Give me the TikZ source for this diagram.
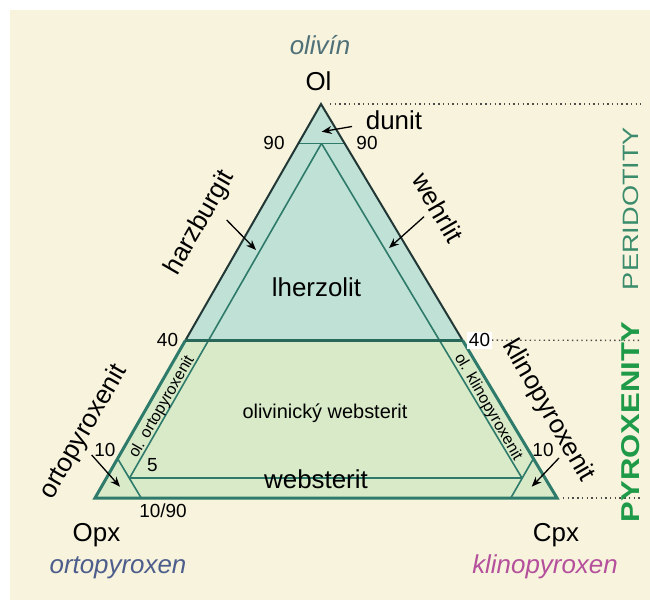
\documentclass[tikz,border=0pt]{standalone}
\usepackage{fontspec}
\setmainfont{Liberation Sans}
\usetikzlibrary{arrows.meta}
\definecolor{bg}{HTML}{F8F3DC}
\definecolor{perfill}{HTML}{C0E1D5}
\definecolor{pyrfill}{HTML}{D8EAC8}
\definecolor{tealline}{HTML}{2E7A6B}
\definecolor{darkedge}{HTML}{223836}
\definecolor{oltxt}{HTML}{4E7078}
\definecolor{opxtxt}{HTML}{4D5E8C}
\definecolor{cpxtxt}{HTML}{B4509C}
\definecolor{pertxt}{HTML}{3A8C6C}
\definecolor{pyrtxt}{HTML}{1E9A48}
\begin{document}
\begin{tikzpicture}[x=1bp,y=-1bp,
  lbl/.style={font=\fontsize{26}{28}\selectfont, inner sep=0pt, anchor=base},
  num/.style={font=\fontsize{19}{21}\selectfont, inner sep=0pt, anchor=base},
  rotlbl/.style={font=\fontsize{26}{28}\selectfont, inner sep=0pt},
  smallrot/.style={font=\fontsize{16}{18}\selectfont, inner sep=0pt},
  pointer/.style={-{Stealth[length=10bp,width=8bp]}, line width=1.3bp, black},
  dots/.style={line width=1.4bp, black!70, dash pattern=on 1.4bp off 3.3bp},
  innerline/.style={tealline, line width=1.6bp},
  lowedge/.style={tealline, line width=3bp, line join=miter},
  upedge/.style={darkedge, line width=2bp, line join=miter},
  midline/.style={tealline!85!black, line width=3.4bp}
]
\useasboundingbox (0,0) rectangle (650,601);
\fill[white] (0,0) rectangle (650,601);
\fill[bg] (10,10) rectangle (650,600);

% corners
\coordinate (A) at (321,104);
\coordinate (B) at (95,498);
\coordinate (C) at (557,498);
% derived points
\coordinate (L90) at (barycentric cs:A=0.9,B=0.1,C=0);
\coordinate (R90) at (barycentric cs:A=0.9,B=0,C=0.1);
\coordinate (L40) at (barycentric cs:A=0.4,B=0.6,C=0);
\coordinate (R40) at (barycentric cs:A=0.4,B=0,C=0.6);
\coordinate (Q) at (barycentric cs:A=0.9,B=0.05,C=0.05);
\coordinate (L5) at (barycentric cs:A=0.05,B=0.9,C=0.05);
\coordinate (R5) at (barycentric cs:A=0.05,B=0.05,C=0.9);
\coordinate (LE10) at (barycentric cs:A=0.1,B=0.9,C=0);
\coordinate (LB10) at (barycentric cs:A=0,B=0.9,C=0.1);
\coordinate (RE10) at (barycentric cs:A=0.1,B=0,C=0.9);
\coordinate (RB10) at (barycentric cs:A=0,B=0.1,C=0.9);

% fills
\fill[perfill] (A) -- (L40) -- (R40) -- cycle;
\fill[pyrfill] (L40) -- (B) -- (C) -- (R40) -- cycle;

% inner lines
\draw[innerline] (L90) -- (R90);
\draw[innerline] (Q) -- (L5);
\draw[innerline] (Q) -- (R5);
\draw[innerline, line width=2bp] (L5) -- (R5);
\draw[innerline] (LE10) -- (LB10);
\draw[innerline] (RE10) -- (RB10);

% outer edges
\draw[upedge] (L40) -- (A) -- (R40);
\draw[lowedge] (L40) -- (B) -- (C) -- (R40);
\draw[midline] (L40) -- (R40);

% dotted guide lines
\coordinate (dA) at (641,104);
\coordinate (d40) at (641,340.4);
\coordinate (dC) at (641,498);
\draw[dots] ([xshift=9bp]A) -- (dA);
\draw[dots] ([xshift=6bp]C) -- (dC);

% labels top
\node[lbl, text=oltxt] (olivin) at (320,55) {\itshape olivín};
\node[lbl] (Ol) at (318.5,91) {Ol};
\node[lbl] (dunit) at (394,130) {dunit};
\node[num] (n90l) at (274,150) {90};
\node[num] (n90r) at (367,150) {90};
\coordinate (dunitA) at (352,126.5);
\coordinate (dunitT) at (321.7,131.7);
\draw[pointer] (dunitA) -- (dunitT);

% side labels peridotite
\node[rotlbl, rotate=60] (harz) at (200,223) {harzburgit};
\coordinate (harzA) at (226.7,220);
\coordinate (harzT) at (256,250);
\draw[pointer] (harzA) -- (harzT);
\node[rotlbl, rotate=-60] (wehr) at (438,207.5) {wehrlit};
\coordinate (wehrA) at (424,216.7);
\coordinate (wehrT) at (389,248);
\draw[pointer] (wehrA) -- (wehrT);
\node[lbl] (lherz) at (316.5,296.7) {lherzolit};

% 40 labels
\node[num] (n40l) at (167.5,346.7) {40};
\node[num, fill=white, inner sep=1.8bp] (n40r) at (479.5,346.7) {40};
\draw[dots] (n40r.east) -- (d40);

% pyroxenite labels
\node[lbl, font=\fontsize{20}{22}\selectfont] (olweb) at (325,418) {olivinický websterit};
\node[lbl] (webst) at (316,488.3) {websterit};
\node[smallrot, rotate=60] (olopx) at (162,407) {ol. ortopyroxenit};
\node[smallrot, rotate=-60] (olcpx) at (488,407) {ol. klinopyroxenit};
\node[num] (n5) at (152.5,471.7) {5};
\node[num] (n1090) at (163,517.7) {10/90};
\node[num] (n10l) at (105,456.7) {10};
\node[num] (n10r) at (543,456.7) {10};
\node[rotlbl, rotate=60] (opxit) at (84,432) {ortopyroxenit};
\coordinate (opxA) at (91.7,455);
\coordinate (opxT) at (120,486.7);
\draw[pointer] (opxA) -- (opxT);
\node[rotlbl, rotate=-60] (cpxit) at (548,411) {klinopyroxenit};
\coordinate (cpxA) at (559,458);
\coordinate (cpxT) at (531.7,486.7);
\draw[pointer] (cpxA) -- (cpxT);

% corner labels
\node[lbl] (Opx) at (96.5,541) {Opx};
\node[lbl] (Cpx) at (556,541) {Cpx};
\node[lbl, text=opxtxt] (opxname) at (118,573.3) {\itshape ortopyroxen};
\node[lbl, text=cpxtxt] (cpxname) at (545,573.3) {\itshape klinopyroxen};

% vertical group labels
\node[rotate=90, inner sep=0pt, text=pertxt] (per) at (630.7,208.5) {\resizebox{163bp}{15.5bp}{PERIDOTITY}};
\node[rotate=90, inner sep=0pt, text=pyrtxt] (pyr) at (631,422) {\resizebox{200bp}{18bp}{\bfseries PYROXENITY}};
\end{tikzpicture}
\end{document}
